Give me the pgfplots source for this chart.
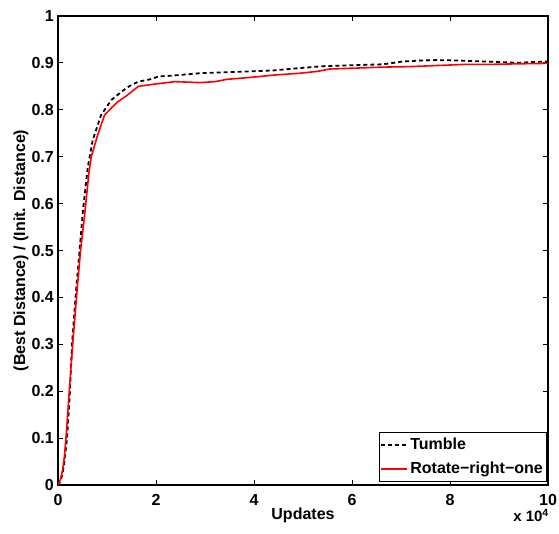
\documentclass[border=0pt]{standalone}
\usepackage{fontspec}
\setmainfont{Liberation Sans}
\usepackage{pgfplots}
\pgfplotsset{compat=1.18}

% Tumble vs Rotate-right-one, x in units of 10^4 updates
\pgfplotstableread{
x y
0 0
0.06 0.01
0.12 0.04
0.185 0.10
0.245 0.20
0.285 0.30
0.37 0.416
0.44 0.50
0.51 0.586
0.61 0.679
0.71 0.736
0.88 0.789
1.09 0.821
1.3 0.839
1.45 0.85
1.64 0.86
1.88 0.865
2.05 0.871
2.35 0.873
2.9 0.878
3.4 0.880
3.92 0.882
4.4 0.884
4.94 0.889
5.41 0.893
6.0 0.895
6.63 0.897
7.04 0.903
7.4 0.905
7.73 0.906
8.2 0.905
8.67 0.903
9.0 0.902
9.37 0.900
9.7 0.902
10 0.903
}\tumble

\pgfplotstableread{
x y
0 0
0.05 0.012
0.095 0.032
0.13 0.06
0.163 0.10
0.23 0.20
0.30 0.30
0.39 0.416
0.46 0.50
0.54 0.572
0.63 0.665
0.68 0.70
0.80 0.743
0.95 0.789
1.1 0.805
1.22 0.817
1.40 0.83
1.64 0.85
1.98 0.855
2.39 0.86
2.9 0.858
3.2 0.860
3.45 0.865
3.92 0.869
4.4 0.874
4.94 0.878
5.3 0.882
5.55 0.887
6.1 0.889
6.63 0.891
7.15 0.892
7.65 0.894
8.35 0.897
8.9 0.897
9.37 0.898
10 0.899
}\rotright

\begin{document}
\begin{tikzpicture}
\useasboundingbox (0,0) rectangle (559pt,533pt);
\begin{axis}[
    name=ax,
    at={(58pt,48pt)}, anchor=south west,
    scale only axis, width=490pt, height=469pt,
    xmin=0, xmax=10, ymin=0, ymax=1,
    xtick={0,2,...,10}, ytick={0,0.1,...,1},
    yticklabels={0,0.1,0.2,0.3,0.4,0.5,0.6,0.7,0.8,0.9,1},
    /pgf/number format/assume math mode=true,
    tick align=inside, major tick length=5pt,
    axis line style={line width=1.3pt},
    every tick/.style={black, line width=1pt},
    ticklabel style={font=\bfseries\fontsize{16}{19}\selectfont},
    xticklabel style={anchor=base, yshift=-20pt},
    yticklabel style={anchor=east, inner sep=0pt, xshift=-4pt},
    xlabel={Updates},
    ylabel={(Best Distance) / (Init. Distance)},
    label style={font=\bfseries\fontsize{16}{19}\selectfont},
    xlabel style={at={(axis description cs:0.5,-0.0746)}, anchor=base},
    ylabel style={at={(axis description cs:-0.0755,0.5)}, anchor=center},
    legend style={at={(1,0)}, anchor=south east, xshift=-2pt, yshift=4pt,
        font=\bfseries\fontsize{16}{19}\selectfont, draw=black,
        inner xsep=1pt, inner ysep=3.5pt, row sep=7pt},
    legend cell align=left,
    legend image code/.code={\draw[#1, line width=2pt] (0pt,0pt) -- (26pt,0pt);},
]
\addplot[black, line width=1.8pt, dash pattern=on 4pt off 3pt] table {\tumble};
\addlegendentry{Tumble}
\addplot[red, line width=1.6pt] table {\rotright};
\addlegendentry{Rotate−right−one}
\end{axis}
\node[anchor=base east, font=\bfseries\fontsize{15}{18}\selectfont, inner sep=0pt]
    at ([xshift=1pt,yshift=-36.5pt]ax.south east) {x 10\textsuperscript{4}};
\end{tikzpicture}
\end{document}
